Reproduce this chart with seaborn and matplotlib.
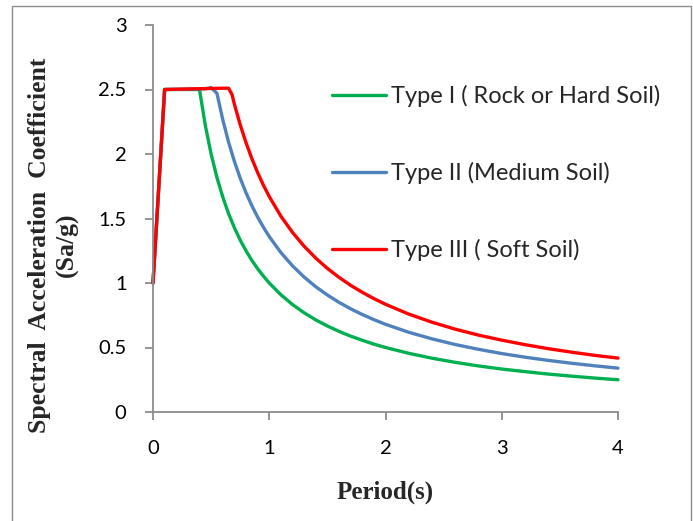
import matplotlib
matplotlib.use("Agg")
import matplotlib.pyplot as plt
import seaborn as sns
import pandas as pd
from matplotlib.patches import Rectangle

# ---- data ----
labels = ["Type I ( Rock or Hard Soil)", "Type II (Medium Soil)", "Type III ( Soft Soil)"]
colors = ["#00B050", "#4F81BD", "#FF0000"]

t_type1 = [0, 0.1, 0.4, 0.45, 0.5, 0.55, 0.6, 0.65, 0.7, 0.75, 0.8, 0.85, 0.9, 0.95, 1.0,
           1.1, 1.2, 1.3, 1.4, 1.5, 1.6, 1.7, 1.8, 1.9, 2.0, 2.2, 2.4, 2.6, 2.8, 3.0,
           3.2, 3.4, 3.6, 3.8, 4.0]
sa_type1 = [1.0, 2.5, 2.5, 2.222, 2.0, 1.818, 1.667, 1.538, 1.429, 1.333, 1.25, 1.176, 1.111, 1.053, 1.0,
            0.909, 0.833, 0.769, 0.714, 0.667, 0.625, 0.588, 0.556, 0.526, 0.5, 0.455, 0.417, 0.385, 0.357, 0.333,
            0.313, 0.294, 0.278, 0.263, 0.25]

t_type2 = [0, 0.1, 0.45, 0.5, 0.55, 0.6, 0.65, 0.7, 0.75, 0.8, 0.85, 0.9, 0.95, 1.0,
           1.1, 1.2, 1.3, 1.4, 1.5, 1.6, 1.7, 1.8, 1.9, 2.0, 2.2, 2.4, 2.6, 2.8, 3.0,
           3.2, 3.4, 3.6, 3.8, 4.0]
sa_type2 = [1.0, 2.5, 2.505, 2.515, 2.47, 2.267, 2.092, 1.943, 1.813, 1.7, 1.6, 1.511, 1.432, 1.36,
            1.236, 1.133, 1.046, 0.971, 0.907, 0.85, 0.8, 0.756, 0.716, 0.68, 0.618, 0.567, 0.523, 0.486, 0.453,
            0.425, 0.4, 0.378, 0.358, 0.34]

t_type3 = [0, 0.1, 0.6, 0.65, 0.68, 0.7, 0.75, 0.8, 0.85, 0.9, 0.95, 1.0,
           1.1, 1.2, 1.3, 1.4, 1.5, 1.6, 1.7, 1.8, 1.9, 2.0, 2.2, 2.4, 2.6, 2.8, 3.0,
           3.2, 3.4, 3.6, 3.8, 4.0]
sa_type3 = [1.0, 2.5, 2.51, 2.51, 2.46, 2.386, 2.227, 2.088, 1.965, 1.856, 1.758, 1.67,
            1.518, 1.392, 1.285, 1.193, 1.113, 1.044, 0.982, 0.928, 0.879, 0.835, 0.759, 0.696, 0.642, 0.596, 0.557,
            0.522, 0.491, 0.464, 0.439, 0.418]

x_ticks = [0, 1, 2, 3, 4]
y_ticks = [0, 0.5, 1, 1.5, 2, 2.5, 3]
y_tick_labels = ["0", "0.5", "1", "1.5", "2", "2.5", "3"]

frames = []
for lab, t, s in zip(labels, [t_type1, t_type2, t_type3], [sa_type1, sa_type2, sa_type3]):
    frames.append(pd.DataFrame({"Period": t, "Sa": s, "Type": lab}))
df = pd.concat(frames, ignore_index=True)

sns.set_theme(style="white")
plt.rcParams["font.family"] = ["Lato", "DejaVu Sans"]

fig = plt.figure(figsize=(6.93, 5.21), dpi=100)
ax = fig.add_axes([153 / 693, 1 - 412 / 521, (618 - 153) / 693, (412 - 25) / 521])

sns.lineplot(data=df, x="Period", y="Sa", hue="Type", hue_order=labels, palette=colors,
             sort=False, estimator=None, linewidth=2.4, ax=ax, legend=True)
for ln in ax.lines:
    ln.set_clip_on(False)
    ln.set_solid_joinstyle("round")
    ln.set_solid_capstyle("round")

ax.set_xlim(0, 4)
ax.set_ylim(0, 3)
ax.set_xticks(x_ticks)
ax.set_xticklabels([str(v) for v in x_ticks])
ax.set_yticks(y_ticks)
ax.set_yticklabels(y_tick_labels)
for s in ["top", "right"]:
    ax.spines[s].set_visible(False)
for s in ["left", "bottom"]:
    ax.spines[s].set_color("#8C8C8C")
    ax.spines[s].set_linewidth(1.3)
ax.tick_params(axis="both", which="major", direction="out", length=6, width=1.3,
               color="#8C8C8C", labelsize=14.5, labelcolor="black", left=True, bottom=True)
ax.tick_params(axis="y", pad=13)
ax.tick_params(axis="x", pad=14)
ax.set_xlabel("")
ax.set_ylabel("")
ax.grid(False)

leg = ax.legend(loc="upper left", bbox_to_anchor=(332 / 693, 1 - 85 / 521),
                bbox_transform=fig.transFigure, frameon=False, fontsize=17,
                handlelength=2.3, handletextpad=0.2, labelspacing=2.33, borderpad=0, borderaxespad=0)
for h in leg.get_lines():
    h.set_linewidth(2.4)

fig.text(53 / 693, 1 - 245 / 521, "Spectral  Acceleration  Coefficient\n(Sa/g)", rotation=90,
         ha="center", va="center", multialignment="center", linespacing=1.25,
         fontsize=18.5, fontweight="bold", family="Liberation Serif")
fig.text(385 / 693, 1 - 492 / 521, "Period(s)", ha="center", va="center",
         fontsize=18, fontweight="bold", family="Liberation Serif")

fig.patches.append(Rectangle((12 / 693, -0.05), (691 - 12) / 693, 1.05 - 6 / 521,
                             transform=fig.transFigure, fill=False, edgecolor="#8C8C8C",
                             linewidth=1.0))

fig.savefig("out.png", dpi=100)
